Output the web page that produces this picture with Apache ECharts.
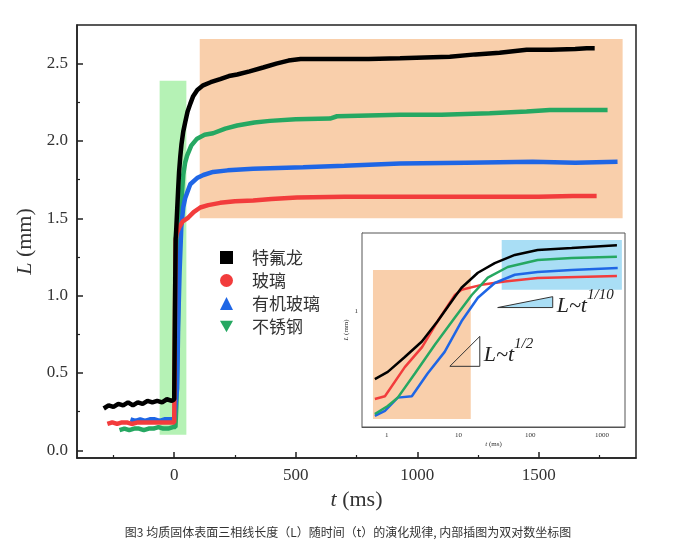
<!DOCTYPE html>
<html><head><meta charset="utf-8">
<script src="https://cdn.jsdelivr.net/npm/echarts@6/dist/echarts.min.js"></script>
<style>html,body{margin:0;padding:0;background:#fff}#c{width:673px;height:555px}</style>
</head><body><div id="c"></div>
<script>
// ---------- data (main plot, t in ms, L in mm) ----------
const seriesNames = ['特氟龙', '玻璃', '有机玻璃', '不锈钢'];
const teflon = [[-290,0.27],[-270,0.29],[-250,0.28],[-230,0.30],[-210,0.29],[-190,0.31],[-170,0.29],[-150,0.31],[-130,0.30],[-110,0.32],[-90,0.31],[-70,0.32],[-50,0.31],[-30,0.33],[-10,0.32],[0,0.33],[3,0.9],[6,1.37],[8,1.42],[12,1.55],[16,1.68],[20,1.80],[25,1.90],[30,1.98],[37,2.06],[45,2.12],[55,2.19],[66,2.24],[78,2.29],[95,2.33],[119,2.36],[150,2.38],[189,2.40],[225,2.42],[259,2.43],[310,2.45],[366,2.475],[420,2.50],[470,2.52],[520,2.53],[600,2.53],[700,2.53],[800,2.53],[929,2.535],[1030,2.54],[1134,2.545],[1240,2.56],[1339,2.57],[1450,2.59],[1550,2.59],[1650,2.595],[1697,2.6],[1730,2.6]];
const glass = [[-275,0.17],[-255,0.18],[-235,0.17],[-215,0.18],[-195,0.18],[-175,0.17],[-150,0.18],[-120,0.18],[-90,0.18],[-60,0.18],[-30,0.18],[0,0.18],[2,0.6],[4,1.1],[6,1.36],[10,1.40],[20,1.44],[35,1.48],[58,1.505],[80,1.54],[107,1.57],[140,1.585],[189,1.60],[250,1.61],[325,1.615],[400,1.625],[505,1.635],[700,1.64],[900,1.64],[1100,1.64],[1300,1.64],[1500,1.64],[1640,1.645],[1700,1.645],[1738,1.645]];
const pmma = [[-180,0.20],[-160,0.19],[-140,0.20],[-120,0.19],[-100,0.20],[-80,0.20],[-60,0.19],[-40,0.20],[-20,0.20],[0,0.20],[8,0.20],[12,0.4],[16,0.79],[22,1.15],[29,1.44],[37,1.57],[45,1.63],[66,1.72],[94,1.76],[120,1.78],[160,1.80],[220,1.81],[325,1.82],[530,1.83],[700,1.84],[929,1.855],[1200,1.86],[1475,1.865],[1650,1.86],[1824,1.865]];
const steel = [[-225,0.13],[-205,0.14],[-185,0.13],[-165,0.14],[-145,0.14],[-125,0.13],[-105,0.14],[-85,0.14],[-65,0.15],[-45,0.14],[-25,0.14],[-5,0.15],[5,0.15],[9,0.3],[13,0.6],[16,0.9],[20,1.23],[25,1.45],[30,1.62],[37,1.78],[45,1.86],[53,1.905],[70,1.97],[94,2.015],[125,2.04],[160,2.05],[210,2.08],[259,2.10],[330,2.12],[394,2.13],[500,2.14],[641,2.145],[670,2.16],[800,2.165],[929,2.17],[1100,2.17],[1298,2.18],[1450,2.19],[1545,2.20],[1700,2.20],[1783,2.20]];
// shaded regions [t1, L1, t2, L2, colorIndex]
const mainBoxes = [[-60,0.1,50,2.39,0],[105,1.5,1845,2.66,1]];
// ---------- inset (log-log) ----------
const teflonLog = [[0.68,0.378],[1.03,0.42],[1.78,0.52],[3.08,0.65],[5.1,0.87],[8.9,1.24],[11,1.41],[18.6,1.75],[32,2.01],[61,2.26],[127,2.43],[378,2.50],[1620,2.6]];
const glassLog = [[0.68,0.284],[0.94,0.296],[1.78,0.45],[3.1,0.60],[5.1,0.87],[8.9,1.27],[11,1.37],[21,1.47],[44,1.54],[127,1.62],[1620,1.67]];
const pmmaLog = [[0.68,0.223],[0.94,0.24],[1.42,0.29],[2.23,0.296],[3.7,0.41],[6.4,0.56],[11,0.87],[18.6,1.22],[32,1.51],[61,1.70],[127,1.77],[378,1.82],[1660,1.87]];
const steelLog = [[0.68,0.229],[1.03,0.257],[1.42,0.29],[2.46,0.41],[4.67,0.62],[8.9,0.92],[15.3,1.27],[25.6,1.63],[48.6,1.90],[127,2.10],[378,2.16],[1620,2.2]];
const insetBoxes = [[0.64,0.213,14.8,1.82,1],[40,1.37,1900,2.8,2]];
// slope triangles: vertices (t, L)
const triHalf = [[7.56,0.455],[19.8,0.455],[19.8,0.70]];
const triTenth = [[35.2,1.06],[206,1.06],[206,1.24]];
const triLabels = ['1/2', '1/10'];
// ---------- ticks ----------
const mainXTicks = [0, 500, 1000, 1500];
const mainXMinor = [-250, 250, 750, 1250, 1750];
const mainYTicks = [0, 0.5, 1.0, 1.5, 2.0, 2.5];
const mainYMinor = [0.25, 0.75, 1.25, 1.75, 2.25];
const insetXTicks = [1, 10, 100, 1000];
const insetXMinor = [0.5,0.6,0.7,0.8,0.9,2,3,4,5,6,7,8,9,20,30,40,50,60,70,80,90,200,300,400,500,600,700,800,900,2000];
const insetYTicks = [1];
const insetYMinor = [0.2,0.3,0.4,0.5,0.6,0.7,0.8,0.9,2,3];

const colors = ['#000000', '#f23c3c', '#1f66e5', '#26a862'];
const boxColors = ['#b5f2b5', '#f9cfab', '#a9def5'];
const SERIF = 'Liberation Serif';
const CJK = 'Noto Sans CJK SC';

const chart = echarts.init(document.getElementById('c'), null, {renderer: 'canvas'});

function rectItem(params, api) {
  const p1 = api.coord([api.value(0), api.value(1)]);
  const p2 = api.coord([api.value(2), api.value(3)]);
  return {type: 'rect', shape: {x: Math.min(p1[0], p2[0]), y: Math.min(p1[1], p2[1]), width: Math.abs(p2[0] - p1[0]), height: Math.abs(p2[1] - p1[1])}, style: {fill: boxColors[api.value(4)]}};
}
const tris = [triHalf, triTenth];
const triFills = ['transparent', boxColors[2]];
function triItem(params, api) {
  const idx = api.value(2);
  const pts = tris[idx].map(p => api.coord(p));
  const xr = pts[1][0], ymid = (pts[1][1] + pts[2][1]) / 2;
  return {type: 'group', children: [
    {type: 'polygon', shape: {points: pts}, style: {fill: triFills[idx], stroke: '#333', lineWidth: 1}},
    {type: 'text', x: xr + 4, y: ymid, style: {
      text: '{a|L~t}{b|' + triLabels[idx] + '}', verticalAlign: 'middle',
      rich: {a: {fontFamily: SERIF, fontStyle: 'italic', fontSize: 22, fill: '#222', lineHeight: 30, verticalAlign: 'bottom'},
             b: {fontFamily: SERIF, fontStyle: 'italic', fontSize: 15, fill: '#222', lineHeight: 30, verticalAlign: 'top'}}
    }}
  ]};
}

function lineSeries(name, data, idx, xi, yi, w) {
  return {type: 'line', name: name, data: data, xAxisIndex: xi, yAxisIndex: yi, showSymbol: false, symbol: 'none',
    lineStyle: {color: colors[idx], width: w}, itemStyle: {color: colors[idx]}, z: 5, animation: false, silent: true};
}
const plainNum = v => String(v);

const tickFont = {fontFamily: SERIF, fontSize: 17, color: '#333'};
const option = {
  animation: false,
  grid: [
    {left: 77, top: 25, width: 559, height: 433, show: true, borderColor: '#222', borderWidth: 1.5, backgroundColor: 'transparent'},
    {left: 362, top: 233, width: 263, height: 194, show: true, borderColor: '#555', borderWidth: 1, backgroundColor: '#fff', z: 3}
  ],
  legend: {
    data: [{name: seriesNames[0], icon: 'rect'}, {name: seriesNames[1], icon: 'circle'}, {name: seriesNames[2], icon: 'triangle'}, {name: seriesNames[3], icon: 'path://M0,0L10,0L5,9Z'}],
    orient: 'vertical', left: 215, top: 243, itemWidth: 13, itemHeight: 13, itemGap: 4,
    textStyle: {fontSize: 17, fontFamily: CJK, color: '#333', padding: [0, 0, 0, 14], lineHeight: 19}
  },
  xAxis: [
    {type: 'value', gridIndex: 0, min: -400, max: 1900, position: 'bottom',
     axisLine: {onZero: false, lineStyle: {color: '#222', width: 1.5}},
     axisTick: {inside: true, length: 6, customValues: mainXTicks, lineStyle: {color: '#222', width: 1.5}},
     axisLabel: Object.assign({customValues: mainXTicks, margin: 9, formatter: plainNum}, tickFont),
     splitLine: {show: false},
     name: '{i|t} (ms)', nameLocation: 'middle', nameGap: 30,
     nameTextStyle: {fontFamily: SERIF, fontSize: 22, color: '#333', rich: {i: {fontFamily: SERIF, fontStyle: 'italic', fontSize: 22, color: '#333'}}}},
    {type: 'value', gridIndex: 0, min: -400, max: 1900, position: 'bottom',
     axisLine: {show: false, onZero: false}, axisTick: {inside: true, length: 3, customValues: mainXMinor, lineStyle: {color: '#222', width: 1.2}},
     axisLabel: {show: false}, splitLine: {show: false}},
    {type: 'log', logBase: 10, gridIndex: 1, min: 0.45, max: 2100, position: 'bottom',
     axisLine: {onZero: false, lineStyle: {color: '#555', width: 1}},
     axisTick: {inside: true, length: 4, customValues: insetXTicks, lineStyle: {color: '#555'}},
     axisLabel: {customValues: insetXTicks, fontFamily: SERIF, fontSize: 7, color: '#333', margin: 5, formatter: plainNum},
     splitLine: {show: false},
     name: '{i|t} (ms)', nameLocation: 'middle', nameGap: 14,
     nameTextStyle: {fontFamily: SERIF, fontSize: 7, color: '#333', rich: {i: {fontFamily: SERIF, fontStyle: 'italic', fontSize: 7, color: '#333'}}}},
    {type: 'log', logBase: 10, gridIndex: 1, min: 0.45, max: 2100, position: 'bottom',
     axisLine: {show: false, onZero: false}, axisTick: {inside: true, length: 2, customValues: insetXMinor, lineStyle: {color: '#555'}},
     axisLabel: {show: false}, splitLine: {show: false}}
  ],
  yAxis: [
    {type: 'value', gridIndex: 0, min: -0.05, max: 2.75, position: 'left',
     axisLine: {onZero: false, lineStyle: {color: '#222', width: 1.5}},
     axisTick: {inside: true, length: 6, customValues: mainYTicks, lineStyle: {color: '#222', width: 1.5}},
     axisLabel: Object.assign({customValues: mainYTicks, margin: 9, formatter: v => Number(v).toFixed(1)}, tickFont),
     splitLine: {show: false},
     name: '{i|L} (mm)', nameLocation: 'middle', nameGap: 35,
     nameTextStyle: {fontFamily: SERIF, fontSize: 22, color: '#333', rich: {i: {fontFamily: SERIF, fontStyle: 'italic', fontSize: 22, color: '#333'}}}},
    {type: 'value', gridIndex: 0, min: -0.05, max: 2.75, position: 'left',
     axisLine: {show: false, onZero: false}, axisTick: {inside: true, length: 3, customValues: mainYMinor, lineStyle: {color: '#222', width: 1.2}},
     axisLabel: {show: false}, splitLine: {show: false}},
    {type: 'log', logBase: 10, gridIndex: 1, min: 0.19, max: 3.1, position: 'left',
     axisLine: {onZero: false, lineStyle: {color: '#555', width: 1}},
     axisTick: {inside: true, length: 4, customValues: insetYTicks, lineStyle: {color: '#555'}},
     axisLabel: {customValues: insetYTicks, fontFamily: SERIF, fontSize: 7, color: '#333', margin: 4, formatter: plainNum},
     splitLine: {show: false},
     name: '{i|L} (mm)', nameLocation: 'middle', nameGap: 12,
     nameTextStyle: {fontFamily: SERIF, fontSize: 7, color: '#333', rich: {i: {fontFamily: SERIF, fontStyle: 'italic', fontSize: 7, color: '#333'}}}},
    {type: 'log', logBase: 10, gridIndex: 1, min: 0.19, max: 3.1, position: 'left',
     axisLine: {show: false, onZero: false}, axisTick: {inside: true, length: 2, customValues: insetYMinor, lineStyle: {color: '#555'}},
     axisLabel: {show: false}, splitLine: {show: false}}
  ],
  series: [
    {type: 'custom', name: 'boxes', xAxisIndex: 0, yAxisIndex: 0, data: mainBoxes, renderItem: rectItem, z: 1, silent: true, encode: {x: [0, 2], y: [1, 3]}},
    lineSeries(seriesNames[3], steel, 3, 0, 0, 4.5),
    lineSeries(seriesNames[2], pmma, 2, 0, 0, 4.5),
    lineSeries(seriesNames[1], glass, 1, 0, 0, 4.5),
    lineSeries(seriesNames[0], teflon, 0, 0, 0, 4.5),
    {type: 'custom', name: 'insetBoxes', xAxisIndex: 2, yAxisIndex: 2, data: insetBoxes, renderItem: rectItem, z: 4, silent: true, encode: {x: [0, 2], y: [1, 3]}},
    Object.assign(lineSeries(seriesNames[1], glassLog, 1, 2, 2, 2.5), {z: 6}),
    Object.assign(lineSeries(seriesNames[2], pmmaLog, 2, 2, 2, 2.5), {z: 6}),
    Object.assign(lineSeries(seriesNames[3], steelLog, 3, 2, 2, 2.5), {z: 6}),
    Object.assign(lineSeries(seriesNames[0], teflonLog, 0, 2, 2, 2.5), {z: 6}),
    {type: 'custom', name: 'tris', xAxisIndex: 2, yAxisIndex: 2, data: [[triHalf[0][0], triHalf[0][1], 0], [triTenth[0][0], triTenth[0][1], 1]], renderItem: triItem, z: 7, silent: true, clip: false}
  ],
  graphic: [
    {type: 'text', x: 348, y: 532, style: {text: '图3 均质固体表面三相线长度（L）随时间（t）的演化规律, 内部插图为双对数坐标图', fontFamily: CJK, fontSize: 12, fill: '#333', align: 'center', verticalAlign: 'middle'}}
  ]
};
chart.setOption(option);
</script></body></html>
